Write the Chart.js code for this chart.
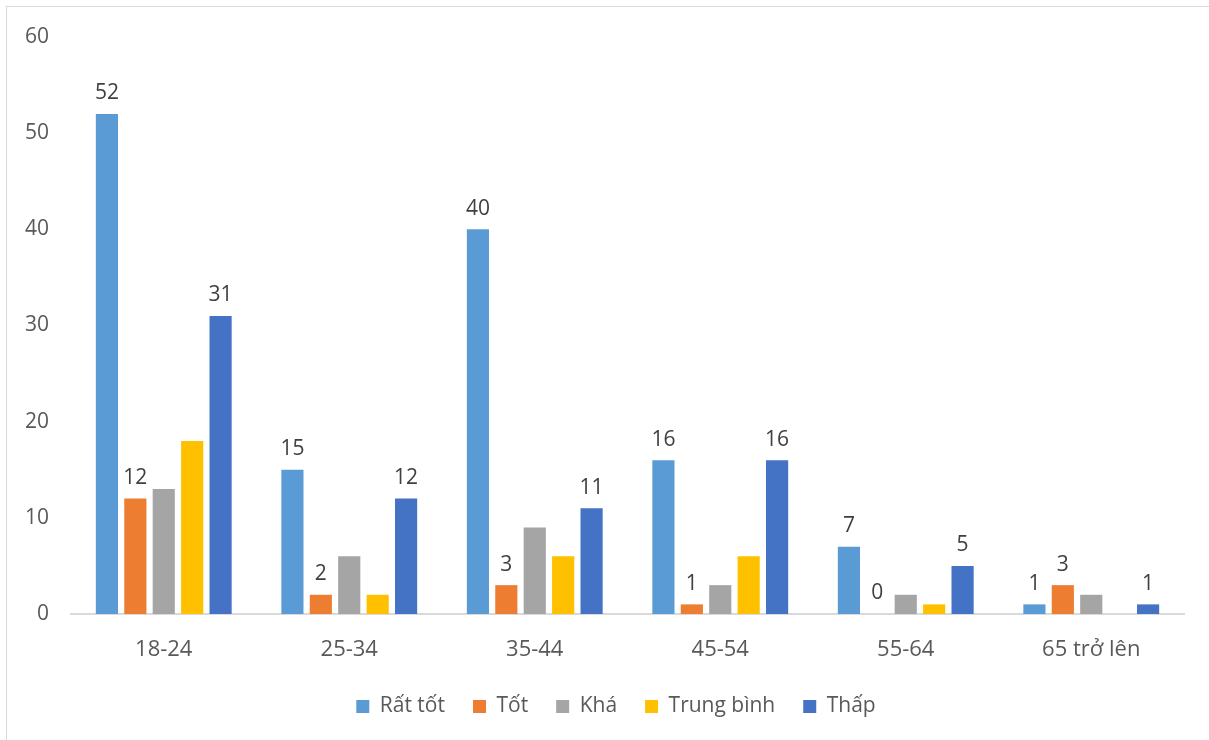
<!DOCTYPE html>
<html>
<head>
<meta charset="utf-8">
<script src="https://cdn.jsdelivr.net/npm/chart.js@4.4.1/dist/chart.umd.min.js"></script>
<style>
  html, body { margin: 0; padding: 0; background: #fff; }
  #khung { position: absolute; left: 6px; top: 6px; width: 1220px; height: 760px; border: 1px solid #d9d9d9; }
  #wrap { position: absolute; left: 0; top: 0; width: 1209px; height: 740px; }
</style>
</head>
<body>
<div id="khung"></div>
<div id="wrap"><canvas id="bieuDo" width="1209" height="740"></canvas></div>
<script>
// Nhóm tuổi và số người theo từng mức đánh giá
const nhomTuoi = ['18-24', '25-34', '35-44', '45-54', '55-64', '65 trở lên'];
const ratTot = [52, 15, 40, 16, 7, 1];
const tot = [12, 2, 3, 1, 0, 3];
const kha = [13, 6, 9, 3, 2, 2];
const trungBinh = [18, 2, 6, 6, 1, 0];
const thap = [31, 12, 11, 16, 5, 1];
const mocTrucY = [0, 10, 20, 30, 40, 50, 60];

const FONT = "'Open Sans', 'Noto Sans', sans-serif";

// Nhãn số liệu phía trên cột (chỉ cho Rất tốt, Tốt, Thấp)
const nhanSoLieu = {
  id: 'nhanSoLieu',
  afterDatasetsDraw(chart) {
    const ctx = chart.ctx;
    ctx.save();
    ctx.font = '21px ' + FONT;
    ctx.fillStyle = '#404040';
    ctx.textAlign = 'center';
    ctx.textBaseline = 'bottom';
    chart.data.datasets.forEach((ds, i) => {
      if (!ds.coNhan) return;
      chart.getDatasetMeta(i).data.forEach((bar, j) => {
        ctx.fillText(ds.data[j], bar.x, bar.y - 10);
      });
    });
    ctx.restore();
  }
};

// Dời chú thích sang phải cho cân với vùng vẽ
const doiChuThich = {
  id: 'doiChuThich',
  afterLayout(chart) {
    chart.legend.left += 24;
    chart.legend.right += 24;
  }
};

const ctx = document.getElementById('bieuDo').getContext('2d');
new Chart(ctx, {
  type: 'bar',
  data: {
    labels: nhomTuoi,
    datasets: [
      { label: 'Rất tốt', data: ratTot, backgroundColor: '#5B9BD5', coNhan: true },
      { label: 'Tốt', data: tot, backgroundColor: '#ED7D31', coNhan: true },
      { label: 'Khá', data: kha, backgroundColor: '#A5A5A5', coNhan: false },
      { label: 'Trung bình', data: trungBinh, backgroundColor: '#FFC000', coNhan: false },
      { label: 'Thấp', data: thap, backgroundColor: '#4472C4', coNhan: true }
    ].map(d => Object.assign(d, {
      categoryPercentage: 0.766,
      barPercentage: 0.78,
      borderWidth: 0
    }))
  },
  options: {
    responsive: false,
    animation: false,
    layout: { padding: { left: 0, right: 25, top: 37, bottom: 13 } },
    plugins: {
      tooltip: { enabled: false },
      legend: {
        position: 'bottom',
        labels: {
          font: { family: FONT, size: 21 },
          color: '#595959',
          boxWidth: 13,
          boxHeight: 13,
          padding: 28
        }
      }
    },
    scales: {
      x: {
        grid: { display: false, drawTicks: false },
        border: { color: '#d9d9d9', width: 2 },
        ticks: { font: { family: FONT, size: 22 }, color: '#595959', padding: 23 },
        afterFit(scale) { scale.height = 54; }
      },
      y: {
        min: 0,
        max: 60,
        afterBuildTicks(scale) { scale.ticks = mocTrucY.map(v => ({ value: v })); },
        grid: { display: false, drawTicks: false },
        border: { display: false },
        ticks: { font: { family: FONT, size: 21 }, color: '#595959', padding: 22 },
        afterFit(scale) { scale.width = 71; }
      }
    }
  },
  plugins: [nhanSoLieu, doiChuThich]
});
</script>
</body>
</html>
